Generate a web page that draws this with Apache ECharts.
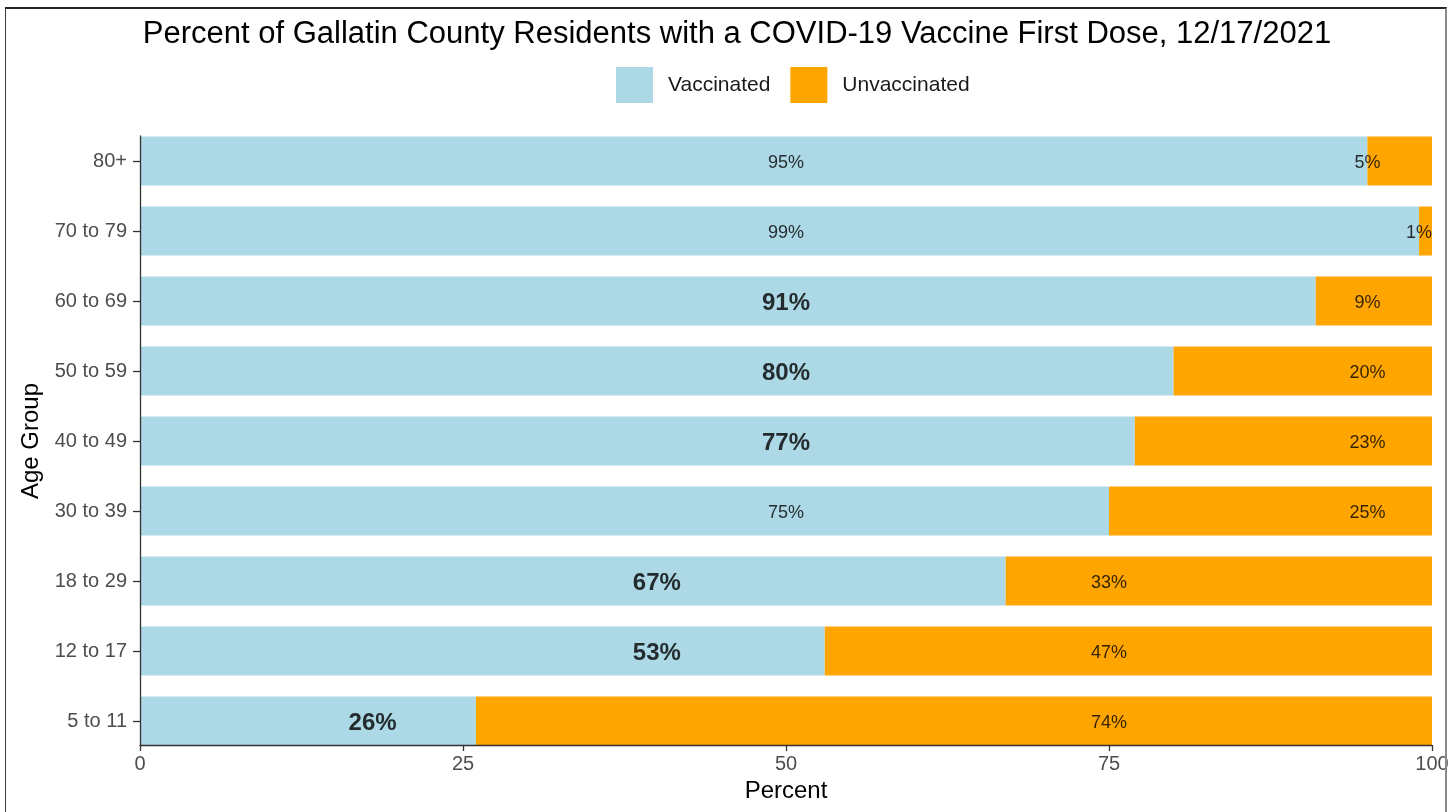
<!DOCTYPE html>
<html>
<head>
<meta charset="utf-8">
<script src="https://cdn.jsdelivr.net/npm/echarts@6/dist/echarts.min.js"></script>
<style>
  html, body { margin: 0; padding: 0; background: #ffffff; }
  #wrap { position: relative; width: 1455px; height: 812px; overflow: hidden; }
  #chart { position: absolute; left: 0; top: 0; width: 1455px; height: 812px; }
  #frame { position: absolute; left: 5px; top: 7px; width: 1442px; height: 900px; box-sizing: border-box;
           border-top: 2px solid #262626; border-left: 1.5px solid #3a3a3a; border-right: 2px solid #8a8a8a; pointer-events: none; }
</style>
</head>
<body>
<div id="wrap">
  <div id="chart"></div>
  <div id="frame"></div>
</div>
<script>
// ---- data (bottom to top) ----
const categories = ['5 to 11', '12 to 17', '18 to 29', '30 to 39', '40 to 49', '50 to 59', '60 to 69', '70 to 79', '80+'];
const vaccinated = [26, 53, 67, 75, 77, 80, 91, 99, 95];
const unvaccinated = [74, 47, 33, 25, 23, 20, 9, 1, 5];
// where each value label sits along the Percent axis
const vaccLabelAt = [18, 40, 40, 50, 50, 50, 50, 50, 50];
const unvacLabelAt = [75, 75, 75, 95, 95, 95, 95, 99, 95];
// which vaccinated labels are highlighted
const vaccHighlighted = [true, true, true, false, true, true, true, false, false];
const xTicks = [0, 25, 50, 75, 100];

const FONT = '"Liberation Sans", Arial, sans-serif';
const BLUE = '#ADD8E6';
const ORANGE = '#FFA500';

function labelItems(xs, vals, hl) {
  return categories.map((c, i) => ({
    value: [xs[i], c],
    label: {
      show: true,
      position: 'inside',
      offset: [0, 2],
      formatter: vals[i] + '%',
      fontFamily: FONT,
      color: '#000',
      fontSize: hl && hl[i] ? 24 : 18,
      fontWeight: hl && hl[i] ? 'bold' : 'normal'
    }
  }));
}

const chart = echarts.init(document.getElementById('chart'), null, { renderer: 'canvas' });
chart.setOption({
  animation: false,
  backgroundColor: '#ffffff',
  textStyle: { fontFamily: FONT },
  title: {
    text: 'Percent of Gallatin County Residents with a COVID-19 Vaccine First Dose, 12/17/2021',
    left: 732, top: 14, textAlign: 'center',
    textStyle: { fontFamily: FONT, fontSize: 31, fontWeight: 'normal', color: '#000' }
  },
  legend: {
    data: ['Vaccinated', 'Unvaccinated'],
    left: 611, top: 62,
    itemWidth: 37, itemHeight: 36, itemGap: 20,
    icon: 'rect',
    textStyle: { fontFamily: FONT, fontSize: 21, color: '#1a1a1a', padding: [6, 0, 0, 10] }
  },
  grid: [
    { left: 140, right: 23, top: 126, bottom: 56, containLabel: false },
    { left: 140, right: 23, top: 136, bottom: 67, containLabel: false }
  ],
  xAxis: [
    { gridIndex: 0, type: 'value', min: 0, max: 100, show: false },
    {
      gridIndex: 1, type: 'value', min: 0, max: 100, interval: 25, z: 10,
      axisLine: { show: true, lineStyle: { color: '#333', width: 1.3 } },
      axisTick: { show: true, length: 6, lineStyle: { color: '#333', width: 1.3 } },
      axisLabel: { color: '#4d4d4d', fontSize: 20, margin: 9, fontFamily: FONT,
                   customValues: xTicks },
      splitLine: { show: false },
      name: 'Percent', nameLocation: 'middle', nameGap: 32,
      nameTextStyle: { fontFamily: FONT, fontSize: 24, color: '#000' }
    }
  ],
  yAxis: [
    {
      gridIndex: 0, type: 'category', data: categories,
      axisLine: { show: false },
      axisTick: { show: true, alignWithLabel: true, length: 7, lineStyle: { color: '#333', width: 1.3 } },
      axisLabel: { color: '#4d4d4d', fontSize: 20, margin: 13, fontFamily: FONT },
      splitLine: { show: false },
      name: 'Age Group', nameLocation: 'middle', nameGap: 92,
      nameTextStyle: { fontFamily: FONT, fontSize: 24, color: '#000' }
    },
    {
      gridIndex: 1, type: 'value', min: 0, max: 1, z: 10,
      axisLine: { show: true, lineStyle: { color: '#333', width: 1.3 } },
      axisTick: { show: false }, axisLabel: { show: false }, splitLine: { show: false }
    }
  ],
  series: [
    {
      name: 'Vaccinated', type: 'bar', stack: 'total', xAxisIndex: 0, yAxisIndex: 0,
      barWidth: '70%', itemStyle: { color: BLUE }, data: vaccinated
    },
    {
      name: 'Unvaccinated', type: 'bar', stack: 'total', xAxisIndex: 0, yAxisIndex: 0,
      barWidth: '70%', itemStyle: { color: ORANGE }, data: unvaccinated
    },
    {
      name: 'vaccLabels', type: 'scatter', xAxisIndex: 0, yAxisIndex: 0,
      symbolSize: 0, silent: true, z: 5,
      data: labelItems(vaccLabelAt, vaccinated, vaccHighlighted)
    },
    {
      name: 'unvacLabels', type: 'scatter', xAxisIndex: 0, yAxisIndex: 0,
      symbolSize: 0, silent: true, z: 5,
      data: labelItems(unvacLabelAt, unvaccinated, null)
    }
  ]
});
</script>
</body>
</html>
